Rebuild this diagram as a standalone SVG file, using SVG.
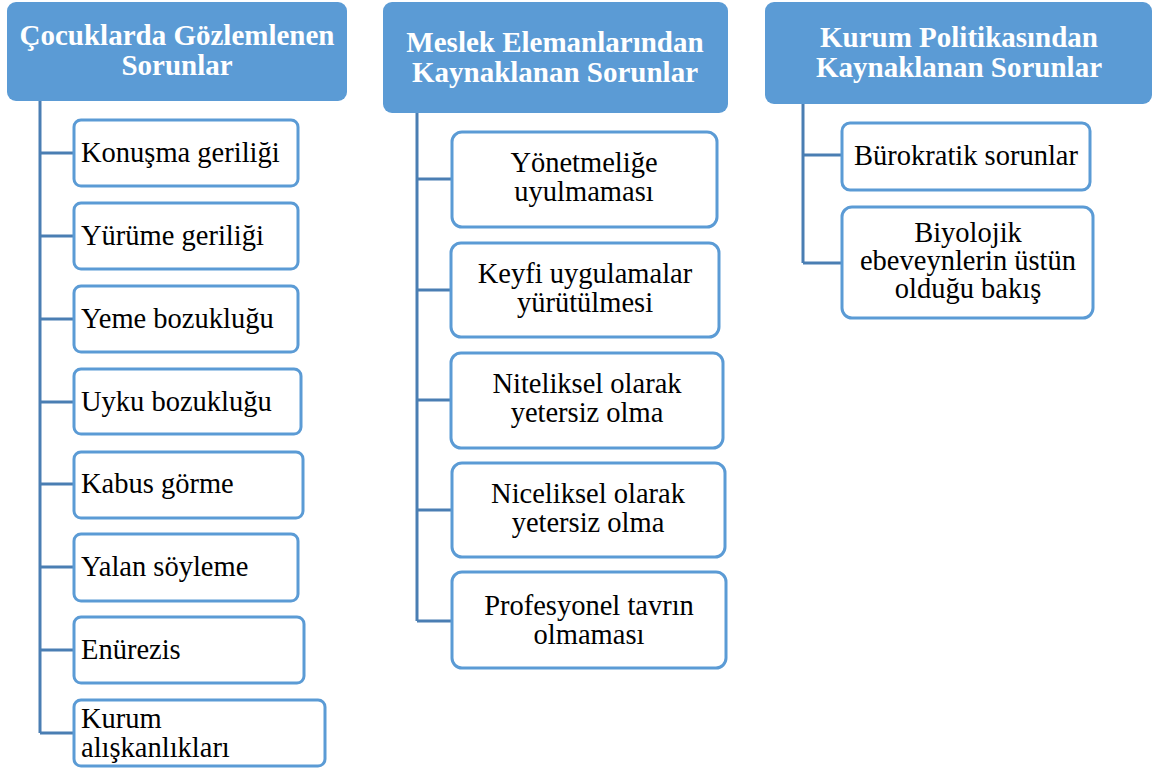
<svg xmlns="http://www.w3.org/2000/svg" width="1160" height="769" viewBox="0 0 1160 769">
<style>
.hdr{fill:#5B9BD5;stroke:none}
.box{fill:#FFFFFF;stroke:#5B9BD5;stroke-width:3}
.ht{font-family:"Liberation Serif",serif;font-weight:bold;font-size:29px;fill:#FFFFFF;text-anchor:middle}
.lbl{font-family:"Liberation Serif","DejaVu Serif",serif;font-weight:400;font-style:normal;font-size:28.5px;fill:#000000}
.mid{text-anchor:middle}
.con{fill:none;stroke:#4A7EB3;stroke-width:3}
</style>
<rect width="1160" height="769" fill="#FFFFFF"/>
<g id="connectors">
<path class="con" d="M40,101 V733 M40,153 H74 M40,236 H74 M40,319 H74 M40,402 H74 M40,484 H74 M40,567 H74 M40,650 H74 M40,733 H74"/>
<path class="con" d="M417,113 V621 M417,179 H451 M417,290 H451 M417,400 H451 M417,510 H451 M417,621 H451"/>
<path class="con" d="M803,104 V263 M803,155 H842 M803,263 H842"/>
</g>
<g id="h1"><rect class="hdr" x="7" y="2" width="340" height="99" rx="9"/><text class="ht" x="177" y="45">Çocuklarda Gözlemlenen</text><text class="ht" x="177" y="75">Sorunlar</text></g>
<g id="h2"><rect class="hdr" x="383" y="2" width="345" height="111" rx="9"/><text class="ht" x="555" y="52">Meslek Elemanlarından</text><text class="ht" x="555" y="82">Kaynaklanan Sorunlar</text></g>
<g id="h3"><rect class="hdr" x="765" y="2" width="387" height="102" rx="9"/><text class="ht" x="959" y="47">Kurum Politikasından</text><text class="ht" x="959" y="77">Kaynaklanan Sorunlar</text></g>
<g id="c1"><rect class="box" x="74" y="120" width="224" height="66" rx="7"/><text class="lbl" x="81" y="162">Konuşma geriliği</text></g>
<g id="c2"><rect class="box" x="74" y="203" width="224" height="66" rx="7"/><text class="lbl" x="81" y="245">Yürüme geriliği</text></g>
<g id="c3"><rect class="box" x="74" y="286" width="224" height="66" rx="7"/><text class="lbl" x="81" y="328">Yeme bozukluğu</text></g>
<g id="c4"><rect class="box" x="74" y="369" width="227" height="65" rx="7"/><text class="lbl" x="81" y="411">Uyku bozukluğu</text></g>
<g id="c5"><rect class="box" x="74" y="452" width="229" height="66" rx="7"/><text class="lbl" x="81" y="493">Kabus görme</text></g>
<g id="c6"><rect class="box" x="74" y="534" width="224" height="67" rx="7"/><text class="lbl" x="81" y="576">Yalan söyleme</text></g>
<g id="c7"><rect class="box" x="74" y="617" width="230" height="66" rx="7"/><text class="lbl" x="81" y="659">Enürezis</text></g>
<g id="c8"><rect class="box" x="74" y="700" width="251" height="66" rx="7"/><text class="lbl" x="81" y="728">Kurum</text><text class="lbl" x="81" y="757">alışkanlıkları</text></g>
<g id="m1"><rect class="box" x="452" y="132" width="265" height="95" rx="10"/><text class="lbl mid" x="584" y="172">Yönetmeliğe</text><text class="lbl mid" x="584" y="201">uyulmaması</text></g>
<g id="m2"><rect class="box" x="451" y="243" width="268" height="94" rx="10"/><text class="lbl mid" x="585" y="283">Keyfi uygulamalar</text><text class="lbl mid" x="585" y="312">yürütülmesi</text></g>
<g id="m3"><rect class="box" x="451" y="353" width="272" height="95" rx="10"/><text class="lbl mid" x="587" y="393">Niteliksel olarak</text><text class="lbl mid" x="587" y="422">yetersiz olma</text></g>
<g id="m4"><rect class="box" x="452" y="463" width="273" height="94" rx="10"/><text class="lbl mid" x="588" y="503">Niceliksel olarak</text><text class="lbl mid" x="588" y="532">yetersiz olma</text></g>
<g id="m5"><rect class="box" x="452" y="572" width="274" height="96" rx="10"/><text class="lbl mid" x="589" y="615">Profesyonel tavrın</text><text class="lbl mid" x="589" y="644">olmaması</text></g>
<g id="k1"><rect class="box" x="842" y="123" width="248" height="67" rx="8"/><text class="lbl mid" x="966" y="165">Bürokratik sorunlar</text></g>
<g id="k2"><rect class="box" x="842" y="207" width="251" height="111" rx="10"/><text class="lbl mid" x="968" y="242">Biyolojik</text><text class="lbl mid" x="968" y="270">ebeveynlerin üstün</text><text class="lbl mid" x="968" y="298">olduğu bakış</text></g>
</svg>
